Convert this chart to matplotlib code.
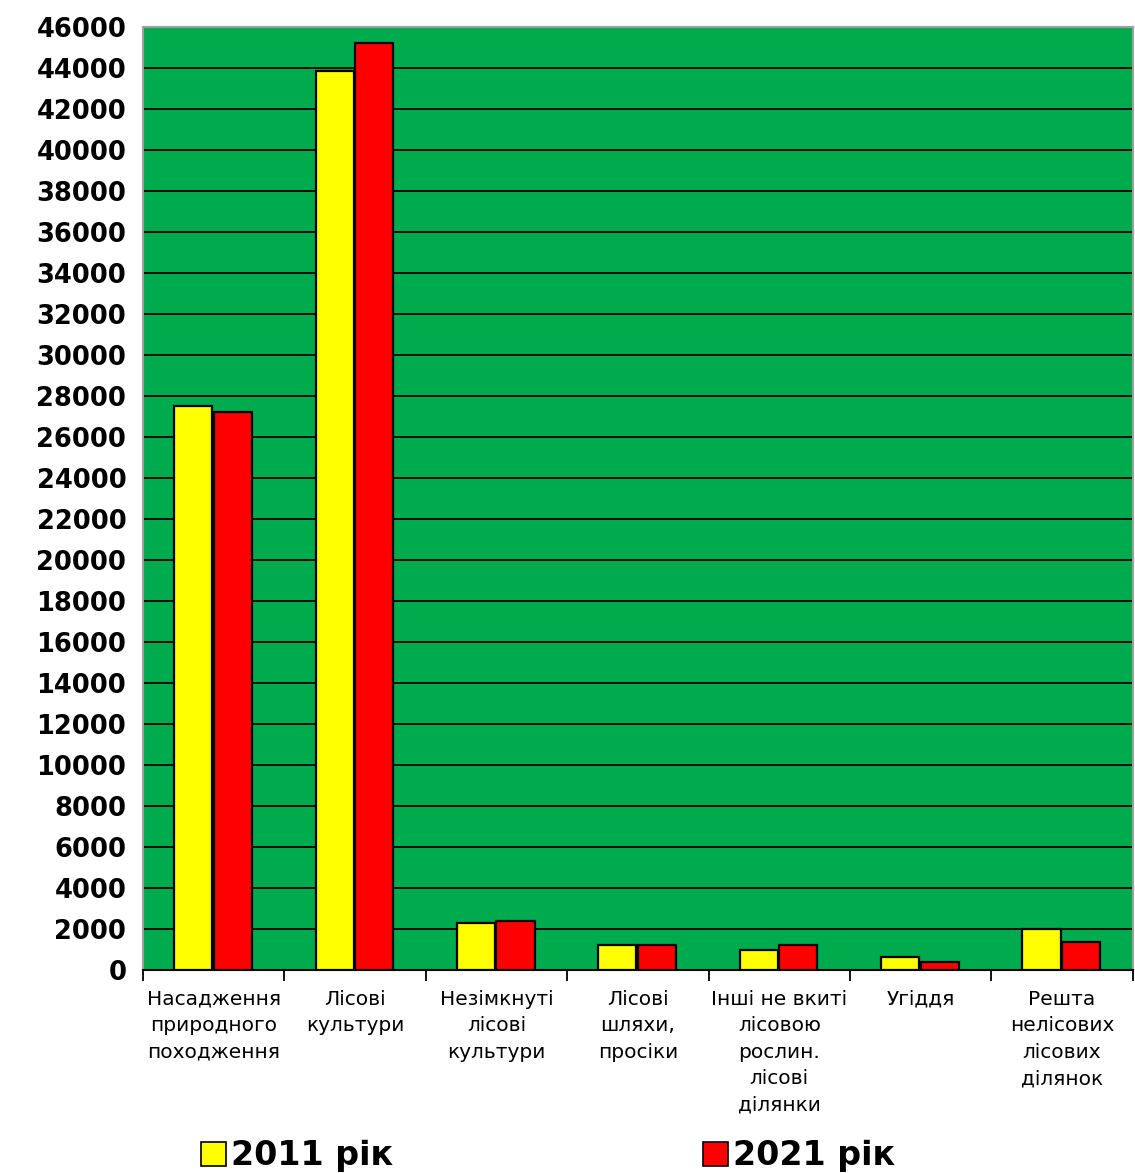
import matplotlib
matplotlib.use("Agg")
import matplotlib.pyplot as plt
import numpy as np
from matplotlib.patches import Patch

categories = [
    "Насадження\nприродного\nпоходження",
    "Лісові\nкультури",
    "Незімкнуті\nлісові\nкультури",
    "Лісові\nшляхи,\nпросіки",
    "Інші не вкиті\nлісовою\nрослин.\nлісові\nділянки",
    "Угіддя",
    "Решта\nнелісових\nлісових\nділянок",
]
series_names = ["2011 рік", "2021 рік"]
values_2011 = [27500, 43850, 2300, 1220, 960, 650, 1980]
values_2021 = [27200, 45220, 2400, 1220, 1220, 390, 1350]
yticks = list(range(0, 46001, 2000))

plt.rcParams['font.family'] = ['DejaVu Sans']
fig = plt.figure(figsize=(11.35, 11.73), dpi=100)
ax = fig.add_axes([0.126, 0.173, 0.872, 0.804])
ax.set_facecolor('#00AB4E')

x = np.arange(len(categories))
w = 0.27
ax.bar(x - 0.145, values_2011, width=w, color='#FFFF00', edgecolor='black', linewidth=1.6, zorder=3)
ax.bar(x + 0.135, values_2021, width=w, color='#FF0000', edgecolor='black', linewidth=1.6, zorder=3)

ax.set_xlim(-0.5, len(categories) - 0.5)
ax.set_ylim(0, 46000)
ax.set_yticks(yticks)
ax.set_yticklabels([str(v) for v in yticks], fontsize=18.5, fontweight='bold')
ax.tick_params(axis='y', length=0, pad=12)
ax.yaxis.grid(True, color='black', linewidth=1.3, zorder=1)
ax.set_axisbelow(True)

ax.set_xticks(x)
ax.set_xticklabels(categories, fontsize=14.5, linespacing=1.5)
ax.tick_params(axis='x', which='major', length=0, pad=14)
ax.set_xticks(np.arange(-0.5, len(categories), 1.0), minor=True)
ax.tick_params(axis='x', which='minor', length=8, width=1.3, color='black')

for s in ['top', 'right', 'left']:
    ax.spines[s].set_color('#A0A0A0')
    ax.spines[s].set_linewidth(1.5)
ax.spines['bottom'].set_color('black')
ax.spines['bottom'].set_linewidth(1.5)

handles = [Patch(facecolor='#FFFF00', edgecolor='black', linewidth=1.2),
           Patch(facecolor='#FF0000', edgecolor='black', linewidth=1.2)]
fig.legend(handles, series_names, loc='center', bbox_to_anchor=(0.483, 0.0145),
           ncol=2, frameon=False, prop={'size': 24, 'weight': 'bold'},
           handlelength=0.75, handleheight=0.75, handletextpad=0.15,
           columnspacing=9.3)

fig.savefig('out.png', dpi=100)
